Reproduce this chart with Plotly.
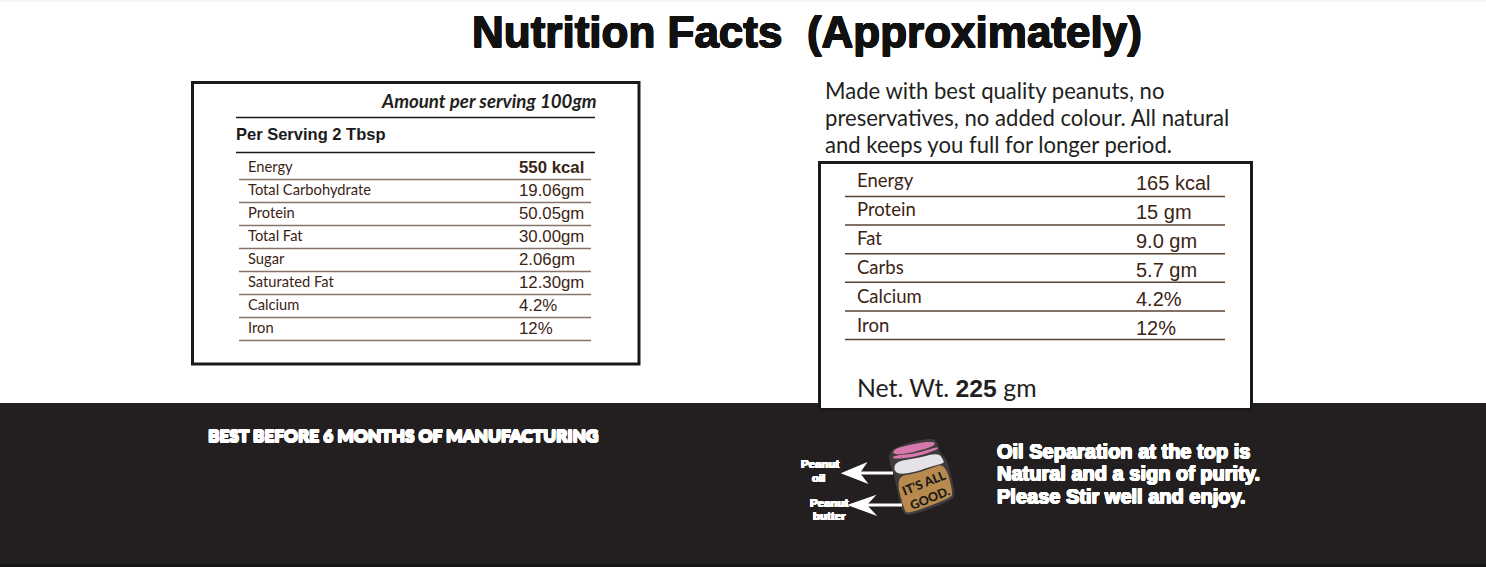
import plotly.graph_objects as go

title_text = 'Nutrition Facts\u00a0\u00a0(Approximately)'
serving_text = 'Amount per serving 100gm'
per_serving_text = 'Per Serving 2 Tbsp'

left_labels = ['Energy', 'Total Carbohydrate', 'Protein', 'Total Fat', 'Sugar',
               'Saturated Fat', 'Calcium', 'Iron']
left_values = ['550 kcal', '19.06gm', '50.05gm', '30.00gm', '2.06gm', '12.30gm', '4.2%', '12%']

right_labels = ['Energy', 'Protein', 'Fat', 'Carbs', 'Calcium', 'Iron']
right_values = ['165 kcal', '15 gm', '9.0 gm', '5.7 gm', '4.2%', '12%']

intro_lines = ['Made with best quality peanuts, no',
               'preservatives, no added colour. All natural',
               'and keeps you full for longer period.']
net_weight = 'Net. Wt. <span style="font-family:Liberation Sans"><b>225</b></span> gm'

best_before = 'BEST BEFORE 6 MONTHS OF MANUFACTURING'
oil_lines = ['Oil Separation at the top is',
             'Natural and a sign of purity.',
             'Please Stir well and enjoy.']

DARK = '#231f20'
BROWN = '#3c2415'
SANS = 'Liberation Sans'


def outline(color, w):
    # fake the heavy stroked lettering of the original
    parts = []
    for dx, dy in ((w, 0), (-w, 0), (0, w), (0, -w), (w, w), (-w, -w), (w, -w), (-w, w)):
        parts.append(f'{dx}px {dy}px 0 {color}')
    return ', '.join(parts)


annotations = []
shapes = []


def label(x, y, text, size, color=DARK, family='Lato', anchor='left', **kw):
    font_extra = kw.pop('font_extra', {})
    # annotations sit a little off their anchor, pull them back
    if anchor == 'left':
        x -= 2
    if anchor == 'right':
        x += 2
    annotations.append(dict(x=x, y=y - 1, xref='x', yref='y', text=text, showarrow=False,
                            xanchor=anchor, yanchor='middle', align=anchor,
                            font=dict(size=size, color=color, family=family, **font_extra), **kw))


def rule(x0, x1, y, color, width):
    shapes.append(dict(type='line', x0=x0, x1=x1, y0=y, y1=y, line=dict(color=color, width=width)))


def box(x0, y0, x1, y1, fill, line_color=None, width=0):
    shapes.append(dict(type='rect', x0=x0, x1=x1, y0=y0, y1=y1, fillcolor=fill,
                       line=dict(color=line_color or fill, width=width)))


def poly(points, fill):
    path = 'M ' + ' L '.join(f'{x:.1f} {y:.1f}' for x, y in points) + ' Z'
    shapes.append(dict(type='path', path=path, fillcolor=fill, line=dict(width=0)))


def soft(points, passes=2):
    # corner cutting so the jar does not look boxy
    for _ in range(passes):
        out = []
        for i, (x0, y0) in enumerate(points):
            x1, y1 = points[(i + 1) % len(points)]
            out.append((0.75 * x0 + 0.25 * x1, 0.75 * y0 + 0.25 * y1))
            out.append((0.25 * x0 + 0.75 * x1, 0.25 * y0 + 0.75 * y1))
        points = out
    return points


def jar(points):
    # traced on a 3x crop that starts at (790, 430)
    return soft([(790 + x / 3, 430 + y / 3) for x, y in points])


# background strips, dark footer band and the two framed boxes
box(0, 0, 1486, 1.5, '#f2f2f2')
box(0, 403, 1486, 567, DARK)
box(0, 563.5, 1486, 567, '#161616')
box(192.5, 82.5, 639, 364, 'white', '#1a1a1a', 3)
box(819.5, 162.5, 1251.5, 409.5, 'white', '#1a1a1a', 3)

# title
label(806.5, 32, title_text, 44, '#111111', SANS, 'center',
      font_extra=dict(weight=700, shadow=outline('#111111', 0.5)))

# left table
label(597, 102, serving_text, 18.7, '#231f20', 'Lato', 'right', font_extra=dict(weight=700, style='italic'))
rule(236, 595, 117.5, '#1a1a1a', 1.5)
label(236, 135, per_serving_text, 16.5, '#1a1a1a', SANS, font_extra=dict(weight=700))
rule(236, 595, 152.5, '#1a1a1a', 1.5)
for i, (name, value) in enumerate(zip(left_labels, left_values)):
    y = 167 + i * 23
    label(248, y, name, 14.7, BROWN)
    if i == 0:
        label(519, y + 1, value, 16.8, BROWN, SANS, font_extra=dict(weight=700))
    else:
        label(519, y + 1, value, 16.8, BROWN, SANS)
    rule(239, 591, 179.5 + i * 23, '#86736a', 1.5)

# right text and table
for i, line in enumerate(intro_lines):
    label(825, 91 + i * 27, line, 22.1)
for i, (name, value) in enumerate(zip(right_labels, right_values)):
    y = 181 + i * 29
    label(857, y, name, 18.5, BROWN)
    label(1136, y + 3, value, 20, BROWN, SANS)
    rule(845, 1225, 196.5 + i * 28.6, '#5a4232', 1.5)
label(857, 388, net_weight, 24.8, DARK)

# footer text
label(208, 436, best_before, 17.3, 'white', 'Lato', font_extra=dict(weight=900, shadow=outline('white', 0.6)))
for i, line in enumerate(oil_lines):
    label(997, 451.5 + i * 22.5, line, 20, 'white', SANS, font_extra=dict(weight=700, shadow=outline('white', 0.5)))

# jar drawing
poly(jar([(297, 68), (325, 48), (380, 32), (425, 25), (442, 35), (450, 70), (470, 85), (497, 190),
          (485, 212), (355, 260), (335, 245), (310, 125), (298, 100)]), '#3d3b3c')
poly(jar([(305, 65), (330, 50), (425, 32), (440, 45), (380, 65), (320, 75)]), '#d678ab')
poly(jar([(308, 77), (380, 70), (443, 50), (445, 58), (380, 80), (310, 88)]), '#d678ab')
poly(jar([(312, 95), (380, 85), (445, 68), (460, 90), (462, 100), (420, 110), (380, 125), (315, 135)]), '#e6e3e8')
poly(jar([(317, 140), (380, 130), (420, 115), (465, 100), (490, 190), (478, 205), (355, 252), (342, 240)]), '#b98a4e')
label(926.5, 491, "IT'S ALL<br>GOOD.", 12.5, '#1a1a1a', 'Lato', 'center', textangle=-22,
      font_extra=dict(weight=900))

# arrows pointing at the oil and the butter
rule(857, 893, 473, 'white', 3)
poly([(840.7, 473.3), (867.5, 462), (860, 473), (868.5, 484)], 'white')
rule(864, 902, 505, 'white', 3)
poly([(847, 505), (876.5, 494.7), (867, 505), (877.2, 516)], 'white')
peanut_font = dict(weight=700, shadow=outline('white', 0.4))
label(820.7, 465.3, 'Peanut', 11.5, 'white', SANS, 'center', font_extra=peanut_font)
label(818, 478.7, 'oil', 11.5, 'white', SANS, 'center', font_extra=peanut_font)
label(829.3, 504.3, 'Peanut', 11.5, 'white', SANS, 'center', font_extra=peanut_font)
label(829.3, 517, 'butter', 11.5, 'white', SANS, 'center', font_extra=peanut_font)

fig = go.Figure()
fig.update_layout(width=1486, height=567, margin=dict(l=0, r=0, t=0, b=0),
                  paper_bgcolor='white', plot_bgcolor='white', showlegend=False,
                  annotations=annotations, shapes=shapes)
fig.update_xaxes(range=[0, 1486], visible=False, fixedrange=True)
fig.update_yaxes(range=[567, 0], visible=False, fixedrange=True)

fig.write_html('out.html', config=dict(displayModeBar=False),
               post_script="document.body.style.margin='0';document.body.style.overflow='hidden';")
